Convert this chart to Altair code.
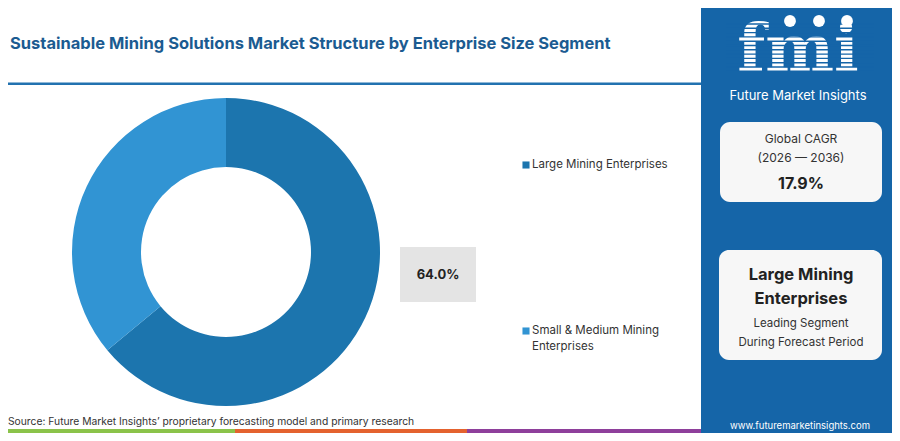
import altair as alt
import pandas as pd

# ---- data ----
categories = ["Large Mining Enterprises", "Small & Medium Mining Enterprises"]
shares = [64.0, 36.0]
seg_order = [0, 1]
seg_colors = ["#1c75ae", "#3194d3"]
legend_lines = [["Large Mining Enterprises"], ["Small & Medium Mining", "Enterprises"]]

title_text = "Sustainable Mining Solutions Market Structure by Enterprise Size Segment"
source_text = "Source: Future Market Insights\u2019 proprietary forecasting model and primary research"
cagr_label = ["Global CAGR", "(2026 \u2014 2036)"]
cagr_value = "17.9%"
lead_segment = ["Large Mining", "Enterprises"]
lead_note = ["Leading Segment", "During Forecast Period"]
brand_mark = "fmi"
brand_name = "Future Market Insights"
website = "www.futuremarketinsights.com"
bar_colors = ["#8bc34a", "#e4622e", "#8e3f9b"]

df = pd.DataFrame({"segment": categories, "share": shares, "rank": seg_order})
one = pd.DataFrame({"k": [0]})

OFF = 8
FONT = "Inter"
PANEL = "#1565a8"
W, H = 884, 425


def P(v):
    return v - OFF


def text(s, x, y, size, color, weight="normal", align="left", font=FONT, baseline="middle", lh=None):
    kw = dict(text=s, align=align, baseline=baseline, fontSize=size, font=font,
              fontWeight=weight, color=color)
    if lh is not None:
        kw["lineHeight"] = lh
    return alt.Chart(one).mark_text(**kw).encode(x=alt.value(P(x)), y=alt.value(P(y)))


def rect(x1, x2, y1, y2, color, **kw):
    return alt.Chart(one).mark_rect(color=color, **kw).encode(
        x=alt.value(P(x1)), x2=alt.value(P(x2)), y=alt.value(P(y1)), y2=alt.value(P(y2)))


color_scale = alt.Scale(domain=categories, range=seg_colors)

layers = []

# title + rule
layers.append(text(title_text, 10, 44, 16.5, "#1b5b91", weight="bold"))
layers.append(rect(0, 701, 82.5, 85, "#2272b0"))

# donut
donut = alt.Chart(df).mark_arc(innerRadius=85, outerRadius=154).encode(
    theta=alt.Theta("share:Q", stack=True),
    color=alt.Color("segment:N", scale=color_scale, legend=None),
    order=alt.Order("rank:Q"),
    x=alt.value(P(226)), y=alt.value(P(252)),
)
layers.append(donut)

# callout with the leading share
layers.append(rect(400, 476, 247, 302, "#e4e4e4"))
layers.append(
    alt.Chart(df).transform_filter(alt.datum.segment == categories[0])
    .transform_calculate(lbl="format(datum.share, '.1f') + '%'")
    .mark_text(font=FONT, fontSize=13, fontWeight="bold", color="#222222", baseline="middle", align="center")
    .encode(text="lbl:N", x=alt.value(P(438)), y=alt.value(P(275)))
)

# manual legend
legend_y = [165, 331]
for cat, lines, ly in zip(categories, legend_lines, legend_y):
    layers.append(
        alt.Chart(df).transform_filter(alt.datum.segment == cat)
        .mark_square(size=50, opacity=1)
        .encode(color=alt.Color("segment:N", scale=color_scale, legend=None),
                x=alt.value(P(526)), y=alt.value(P(ly)))
    )
    layers.append(text(lines, 532, ly, 11.5, "#333333", lh=16))

# source + bottom bar
layers.append(text(source_text, 8, 422, 10.3, "#333333"))
layers.append(rect(8, 235, 429, 433, bar_colors[0]))
layers.append(rect(235, 467, 429, 433, bar_colors[1]))
layers.append(rect(467, 701, 429, 433, bar_colors[2]))

# right panel
layers.append(rect(701, 900, 0, 441, PANEL))
layers.append(text(brand_mark, 798, 71, 65, "white", weight="bold", align="center",
                   font="DejaVu Serif", baseline="alphabetic"))
stripes = (
    alt.Chart(alt.sequence(0, 12, as_="i"))
    .transform_calculate(yy=f"datum.i * 4.3 + {P(24)}")
    .mark_rule(color=PANEL, strokeWidth=1.4)
    .encode(x=alt.value(P(726)), x2=alt.value(P(874)), y=alt.Y("yy:Q", scale=None))
)
layers.append(stripes)
icons = pd.DataFrame({"ix": [790, 819, 847]})
layers.append(
    alt.Chart(icons).transform_calculate(px=f"datum.ix - {OFF}")
    .mark_circle(size=140, color="white", opacity=1)
    .encode(x=alt.X("px:Q", scale=None), y=alt.value(P(21)))
)
layers.append(text(brand_name, 798, 96, 13, "white", align="center"))

# CAGR card
layers.append(rect(720, 882, 122, 202, "#f7f7f7", cornerRadius=10))
layers.append(text(cagr_label, 801, 139, 12, "#333333", align="center", lh=19))
layers.append(text(cagr_value, 801, 184, 16, "#222222", weight="bold", align="center"))

# leading segment card
layers.append(rect(719, 882, 250, 360, "#f7f7f7", cornerRadius=10))
layers.append(text(lead_segment, 801, 275, 16.5, "#222222", weight="bold", align="center", lh=24))
layers.append(text(lead_note, 801, 324, 11.5, "#333333", align="center", lh=19))
layers.append(text(website, 800, 426, 9.5, "white", align="center"))

chart = (
    alt.layer(*layers)
    .properties(width=W, height=H, padding=0, autosize="none", background="white")
    .configure_view(strokeWidth=0)
)

chart.save("out.html", embed_options={"renderer": "svg", "actions": False})
